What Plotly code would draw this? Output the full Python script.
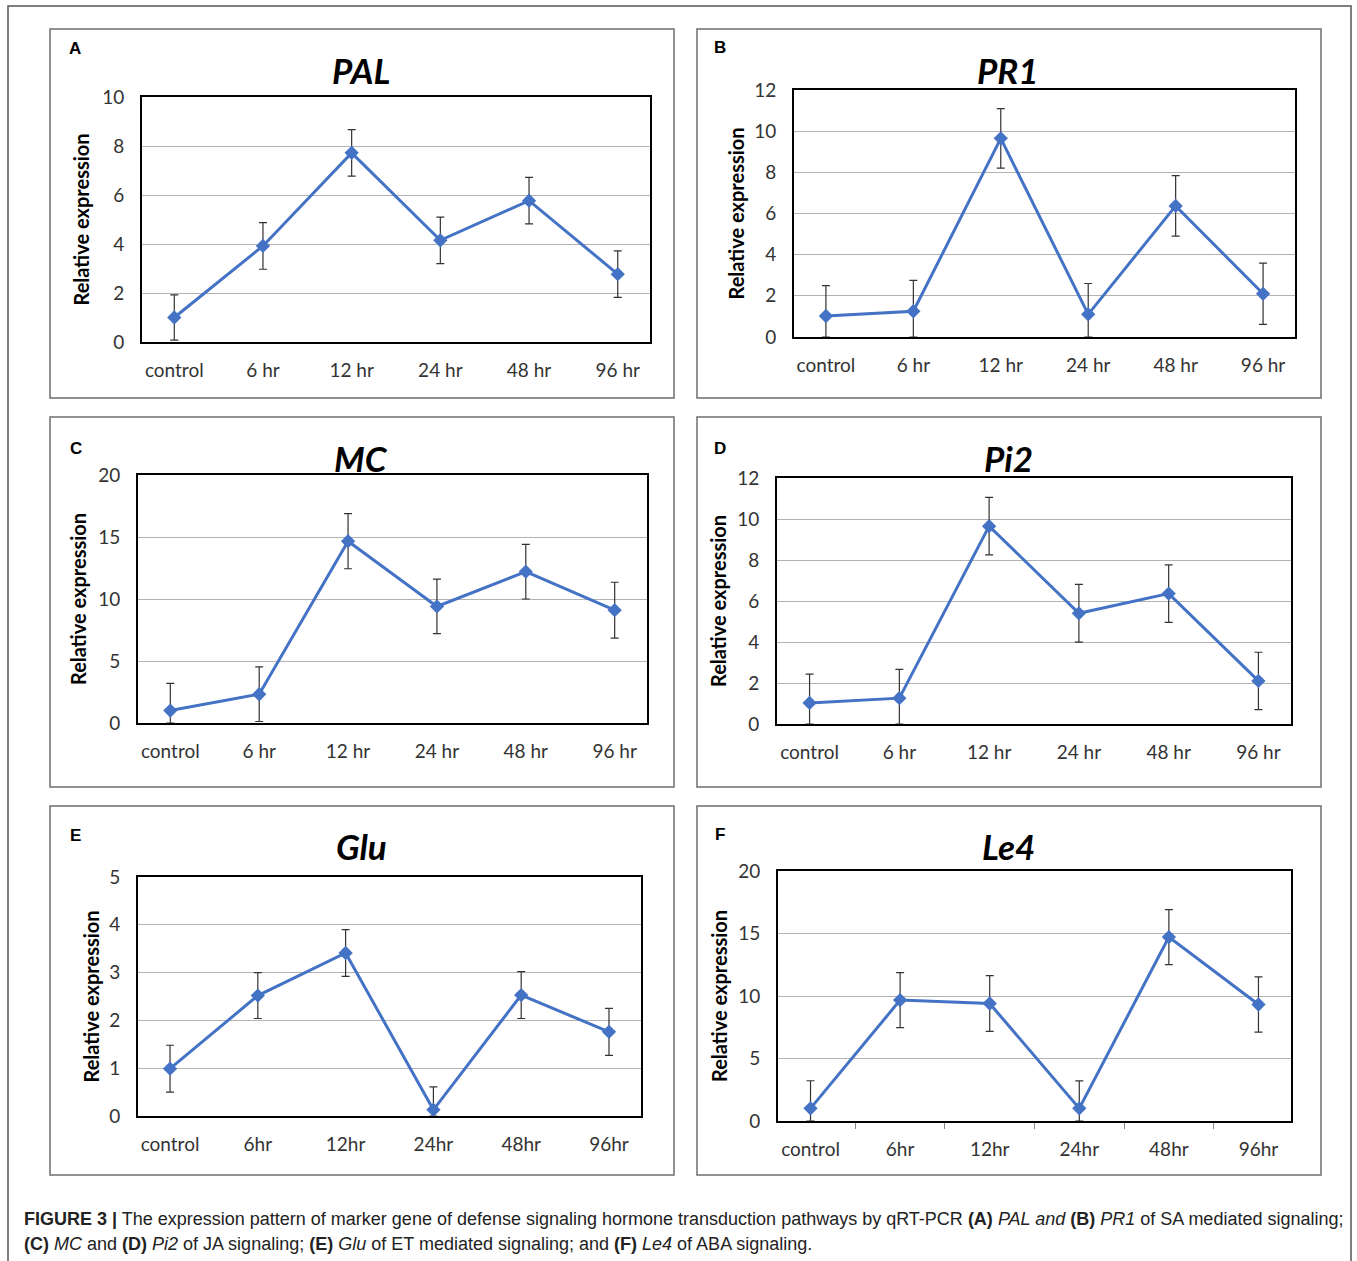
import plotly.graph_objects as go

W, H = 1357, 1261

# ---------------- data ----------------
cats_space = ["control", "6 hr", "12 hr", "24 hr", "48 hr", "96 hr"]
cats_nospace = ["control", "6hr", "12hr", "24hr", "48hr", "96hr"]

pal = [1.0, 3.92, 7.72, 4.15, 5.77, 2.77]
pal_err = [0.92, 0.95, 0.95, 0.95, 0.95, 0.95]

pr1 = [1.02, 1.25, 9.65, 1.1, 6.37, 2.1]
pr1_err = [1.48, 1.5, 1.45, 1.5, 1.47, 1.49]

mc = [1.0, 2.32, 14.66, 9.4, 12.2, 9.1]
mc_err = [2.2, 2.2, 2.22, 2.2, 2.2, 2.25]

pi2 = [1.03, 1.26, 9.65, 5.4, 6.36, 2.1]
pi2_err = [1.4, 1.4, 1.4, 1.41, 1.4, 1.4]

glu = [0.99, 2.52, 3.41, 0.13, 2.53, 1.76]
glu_err = [0.49, 0.48, 0.49, 0.48, 0.49, 0.49]

le4 = [1.01, 9.67, 9.4, 1.01, 14.71, 9.32]
le4_err = [2.21, 2.2, 2.23, 2.2, 2.2, 2.21]

gene_names = ["PAL", "PR1", "MC", "Pi2", "Glu", "Le4"]
panel_letters = ["A", "B", "C", "D", "E", "F"]
y_max = [10, 12, 20, 12, 5, 20]
y_step = [2, 2, 5, 2, 1, 5]

# ---------------- layout geometry (pixels) ----------------
panels = [
    dict(cats=cats_space, y=pal, e=pal_err, frame=(50, 29, 674, 398), plot=(142, 97, 650, 342),
         title=(361, 70), letter=(75, 49), ytitle_x=80, ticks=False),
    dict(cats=cats_space, y=pr1, e=pr1_err, frame=(697, 29, 1321, 398), plot=(794, 90, 1295, 337),
         title=(1008, 70), letter=(720, 48), ytitle_x=735, ticks=False),
    dict(cats=cats_space, y=mc, e=mc_err, frame=(50, 417, 674, 787), plot=(138, 475, 647, 723),
         title=(361, 458), letter=(76, 448), ytitle_x=78, ticks=False),
    dict(cats=cats_space, y=pi2, e=pi2_err, frame=(697, 417, 1321, 787), plot=(777, 478, 1291, 724),
         title=(1008, 458), letter=(720, 448), ytitle_x=718, ticks=False),
    dict(cats=cats_nospace, y=glu, e=glu_err, frame=(50, 806, 674, 1175), plot=(138, 877, 641, 1116),
         title=(361, 846), letter=(75, 835), ytitle_x=90, ticks=False),
    dict(cats=cats_nospace, y=le4, e=le4_err, frame=(697, 806, 1321, 1175), plot=(778, 871, 1291, 1121),
         title=(1008, 846), letter=(720, 834), ytitle_x=719, ticks=True),
]

def fx(x):
    return x / W

def fy(y):
    return 1 - y / H

LINE_BLUE = "#4472C4"
TICK_FONT = dict(family="Lato, Open Sans, sans-serif", size=19, color="#333333")

fig = go.Figure()
shapes = []
annotations = []

for i, p in enumerate(panels):
    n = i + 1
    xa = "x" if n == 1 else f"x{n}"
    ya = "y" if n == 1 else f"y{n}"
    minus = [min(e, v) for e, v in zip(p["e"], p["y"])]
    fig.add_trace(go.Scatter(
        x=p["cats"], y=p["y"], mode="lines+markers",
        line=dict(color=LINE_BLUE, width=3),
        marker=dict(symbol="diamond", size=11, color=LINE_BLUE),
        error_y=dict(type="data", array=p["e"], arrayminus=minus, symmetric=False,
                     color="#333333", thickness=1.2, width=4),
        xaxis=xa, yaxis=ya, showlegend=False, hoverinfo="x+y",
    ))
    x0, y0, x1, y1 = p["plot"]
    xkey = "xaxis" if n == 1 else f"xaxis{n}"
    ykey = "yaxis" if n == 1 else f"yaxis{n}"
    fig.layout[xkey] = dict(
        domain=[fx(x0), fx(x1)], anchor=ya, type="category", automargin=False,
        showline=True, mirror=True, linecolor="black", linewidth=2,
        showgrid=False, zeroline=False, tickfont=TICK_FONT,
        ticks="outside" if p["ticks"] else "", ticklen=6, tickcolor="#888888",
        tickson="boundaries" if p["ticks"] else "labels",
        ticklabelstandoff=10,
        fixedrange=True,
    )
    fig.layout[ykey] = dict(
        domain=[fy(y1), fy(y0)], anchor=xa, range=[0, y_max[i]], dtick=y_step[i], tick0=0,
        automargin=False,
        showline=True, mirror=True, linecolor="black", linewidth=2,
        showgrid=True, gridcolor="#b3b3b3", gridwidth=1, zeroline=False,
        tickfont=TICK_FONT, ticks="", ticklabelstandoff=12, fixedrange=True,
    )
    # panel frame
    fx0, fy0, fx1, fy1 = p["frame"]
    shapes.append(dict(type="rect", xref="paper", yref="paper",
                       x0=fx(fx0), x1=fx(fx1), y0=fy(fy1), y1=fy(fy0),
                       line=dict(color="#6e6e6e", width=1.5), layer="below"))
    # gene title
    annotations.append(dict(text=f"<b><i>{gene_names[i]}</i></b>", xref="paper", yref="paper",
                            x=fx(p["title"][0]), y=fy(p["title"][1]), xanchor="center", yanchor="middle",
                            showarrow=False, font=dict(family="Lato, Open Sans, sans-serif", size=35, color="black")))
    # panel letter
    annotations.append(dict(text=f"<b>{panel_letters[i]}</b>", xref="paper", yref="paper",
                            x=fx(p["letter"][0]), y=fy(p["letter"][1]), xanchor="center", yanchor="middle",
                            showarrow=False, font=dict(family="Liberation Sans, Arial, sans-serif", size=17, color="black")))
    # y axis title
    annotations.append(dict(text="<b>Relative expression</b>", xref="paper", yref="paper",
                            x=fx(p["ytitle_x"]), y=fy((y0 + y1) / 2), xanchor="center", yanchor="middle",
                            textangle=-90, showarrow=False,
                            font=dict(family="Lato, Open Sans, sans-serif", size=20, color="black")))

# outer border (open at bottom)
shapes.append(dict(type="path", xref="paper", yref="paper",
                   path=f"M {fx(8)} {fy(1275)} L {fx(8)} {fy(6)} L {fx(1351)} {fy(6)} L {fx(1351)} {fy(1275)}",
                   line=dict(color="#555555", width=1.5)))

caption1 = ("<b>FIGURE 3 |</b> The expression pattern of marker gene of defense signaling hormone transduction "
            "pathways by qRT-PCR <b>(A)</b> <i>PAL and</i> <b>(B)</b> <i>PR1</i> of SA mediated signaling;")
caption2 = ("<b>(C)</b> <i>MC</i> and <b>(D)</b> <i>Pi2</i> of JA signaling; <b>(E)</b> <i>Glu</i> of ET "
            "mediated signaling; and <b>(F)</b> <i>Le4</i> of ABA signaling.")
cap_font = dict(family="Liberation Sans, Arial, sans-serif", size=18, color="#222222")
annotations.append(dict(text=caption1, xref="paper", yref="paper", x=fx(22), y=fy(1219),
                        xanchor="left", yanchor="middle", showarrow=False, font=cap_font))
annotations.append(dict(text=caption2, xref="paper", yref="paper", x=fx(22), y=fy(1244),
                        xanchor="left", yanchor="middle", showarrow=False, font=cap_font))

fig.update_layout(
    template="none",
    width=W, height=H, margin=dict(l=0, r=0, t=0, b=0, pad=0, autoexpand=False),
    paper_bgcolor="white", plot_bgcolor="white",
    shapes=shapes, annotations=annotations, showlegend=False,
)

fig.write_html(
    "out.html",
    config={"displayModeBar": False},
    post_script="document.body.style.margin='0';document.body.style.overflow='hidden';",
)
